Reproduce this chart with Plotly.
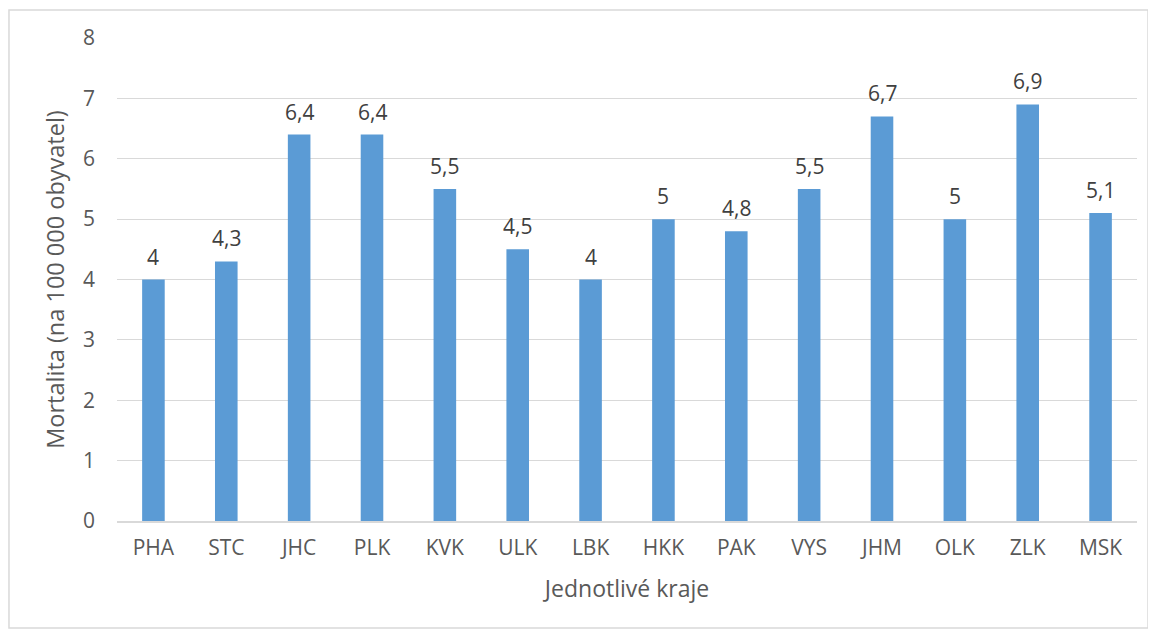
import plotly.graph_objects as go

# Regions (kraje) and mortality per 100 000 inhabitants
kraje = ['PHA', 'STC', 'JHC', 'PLK', 'KVK', 'ULK', 'LBK', 'HKK', 'PAK', 'VYS', 'JHM', 'OLK', 'ZLK', 'MSK']
mortalita = [4, 4.3, 6.4, 6.4, 5.5, 4.5, 4, 5, 4.8, 5.5, 6.7, 5, 6.9, 5.1]
popisky = [str(v).replace('.', ',') for v in mortalita]

fig = go.Figure()
fig.add_trace(go.Bar(
    x=kraje, y=mortalita,
    marker=dict(color='#5b9bd5', line=dict(width=0)),
))

# value labels above bars
for k, v, p in zip(kraje, mortalita, popisky):
    fig.add_annotation(x=k, y=v, text=p, showarrow=False, yanchor='bottom',
                       yshift=7, font=dict(size=21, color='#404040'))

font_main = 'Open Sans, Liberation Sans, sans-serif'
# page body has an 8px margin, so the figure is a bit smaller than the window
fig.update_layout(
    width=1148, height=626,
    margin=dict(l=109, r=19, t=30, b=113),
    plot_bgcolor='white', paper_bgcolor='white',
    font=dict(family=font_main, color='#595959'),
    bargap=0.69,
    showlegend=False,
    xaxis=dict(
        title=dict(text='Jednotlivé kraje', font=dict(size=23, color='#595959'), standoff=21),
        tickfont=dict(size=21, color='#595959'),
        showline=True, linecolor='#d9d9d9', linewidth=2,
        ticks='', ticklabelstandoff=7, automargin=False,
    ),
    yaxis=dict(
        title=dict(text='Mortalita (na 100 000 obyvatel)', font=dict(size=23.5, color='#595959'), standoff=11),
        range=[0, 8], dtick=1,
        tickfont=dict(size=21, color='#595959'),
        gridcolor='#d9d9d9', gridwidth=1,
        zeroline=False, showline=False,
        ticks='', ticklabelstandoff=21, automargin=False,
    ),
    shapes=[dict(
        type='rect', xref='paper', yref='paper',
        x0=-0.1059, x1=1.0108, y0=-0.2215, y1=1.058,
        line=dict(color='#d9d9d9', width=1.5), fillcolor='rgba(0,0,0,0)',
        layer='below',
    )],
)

fig.write_html("out.html")
